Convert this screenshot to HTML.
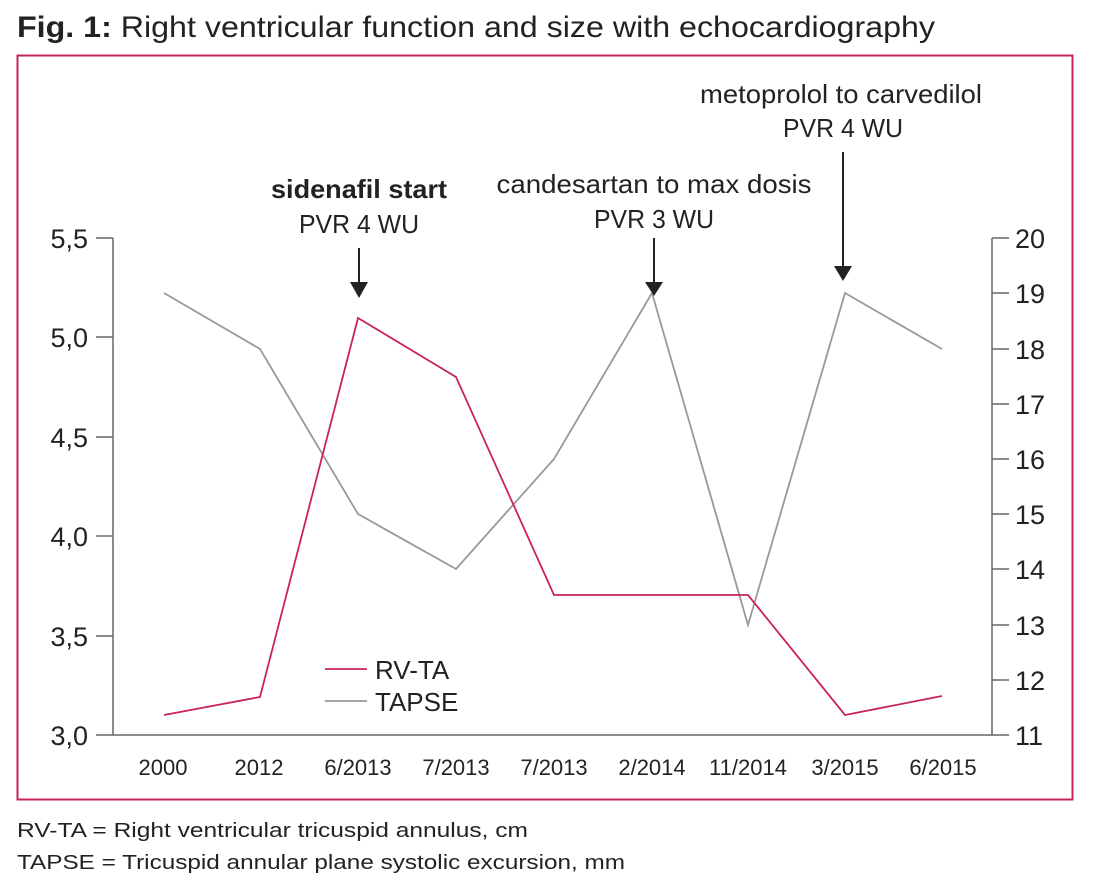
<!DOCTYPE html>
<html><head><meta charset="utf-8"><style>
html,body{margin:0;padding:0;background:#fff;}
svg{display:block;}
text{font-family:"Liberation Sans",sans-serif;fill:#222;}
</style></head><body>
<svg width="1100" height="885" viewBox="0 0 1100 885" xmlns="http://www.w3.org/2000/svg">
<text x="17" y="37" font-size="30" textLength="918" lengthAdjust="spacingAndGlyphs"><tspan font-weight="bold">Fig. 1:</tspan> Right ventricular function and size with echocardiography</text>
<rect x="17.5" y="55.5" width="1055" height="744" fill="none" stroke="#c8245a" stroke-width="2"/>
<g stroke="#666" stroke-width="1.5" fill="none">
<line x1="113" y1="238" x2="113" y2="735"/>
<line x1="992" y1="238" x2="992" y2="735"/>
<line x1="96" y1="735" x2="1009" y2="735"/>
<line x1="96" y1="238" x2="113" y2="238"/><line x1="96" y1="337" x2="113" y2="337"/><line x1="96" y1="437" x2="113" y2="437"/><line x1="96" y1="536" x2="113" y2="536"/><line x1="96" y1="636" x2="113" y2="636"/>
<line x1="992" y1="238" x2="1009" y2="238"/><line x1="992" y1="293" x2="1009" y2="293"/><line x1="992" y1="349" x2="1009" y2="349"/><line x1="992" y1="404" x2="1009" y2="404"/><line x1="992" y1="459" x2="1009" y2="459"/><line x1="992" y1="514" x2="1009" y2="514"/><line x1="992" y1="569" x2="1009" y2="569"/><line x1="992" y1="625" x2="1009" y2="625"/><line x1="992" y1="680" x2="1009" y2="680"/>
</g>
<g font-size="27" text-anchor="end">
<text x="88" y="248">5,5</text><text x="88" y="347">5,0</text><text x="88" y="447">4,5</text><text x="88" y="546">4,0</text><text x="88" y="646">3,5</text><text x="88" y="745">3,0</text>
</g>
<g font-size="27">
<text x="1015" y="248">20</text><text x="1015" y="303">19</text><text x="1015" y="359">18</text><text x="1015" y="414">17</text><text x="1015" y="469">16</text><text x="1015" y="524">15</text><text x="1015" y="579">14</text><text x="1015" y="635">13</text><text x="1015" y="690">12</text><text x="1015" y="745">11</text>
</g>
<g font-size="22" text-anchor="middle">
<text x="163" y="775">2000</text><text x="259" y="775">2012</text><text x="358" y="775">6/2013</text><text x="456" y="775">7/2013</text><text x="554" y="775">7/2013</text><text x="652" y="775">2/2014</text><text x="748" y="775">11/2014</text><text x="845" y="775">3/2015</text><text x="943" y="775">6/2015</text>
</g>
<polyline fill="none" stroke="#999" stroke-width="1.8" points="164,293 260,349 358,514 456,569 554,459 652,293 748,625 845,293 942,349"/>
<polyline fill="none" stroke="#c8245a" stroke-width="1.8" points="164,715 260,697 358,318 456,377 554,595 652,595 748,595 845,715 942,696"/>
<line x1="325" y1="669" x2="367" y2="669" stroke="#c8245a" stroke-width="1.8"/>
<line x1="325" y1="701" x2="367" y2="701" stroke="#999" stroke-width="1.8"/>
<text x="375" y="679" font-size="26">RV-TA</text>
<text x="375" y="711" font-size="26">TAPSE</text>
<g font-size="26" text-anchor="middle">
<text x="359" y="198" font-weight="bold" textLength="176" lengthAdjust="spacingAndGlyphs">sidenafil start</text>
<text x="359" y="233" textLength="120" lengthAdjust="spacingAndGlyphs">PVR 4 WU</text>
<text x="654" y="193" textLength="315" lengthAdjust="spacingAndGlyphs">candesartan to max dosis</text>
<text x="654" y="228" textLength="120" lengthAdjust="spacingAndGlyphs">PVR 3 WU</text>
<text x="841" y="103" textLength="282" lengthAdjust="spacingAndGlyphs">metoprolol to carvedilol</text>
<text x="843" y="137" textLength="120" lengthAdjust="spacingAndGlyphs">PVR 4 WU</text>
</g>
<g stroke="#222" stroke-width="2">
<line x1="359" y1="248" x2="359" y2="284"/>
<line x1="654" y1="238" x2="654" y2="284"/>
<line x1="843" y1="152" x2="843" y2="268"/>
</g>
<g fill="#222">
<polygon points="350,282 368,282 359,298"/>
<polygon points="645,282 663,282 654,296"/>
<polygon points="834,266 852,266 843,281"/>
</g>
<text x="17" y="837" font-size="20" textLength="511" lengthAdjust="spacingAndGlyphs">RV-TA = Right ventricular tricuspid annulus, cm</text>
<text x="17" y="869" font-size="20" textLength="608" lengthAdjust="spacingAndGlyphs">TAPSE = Tricuspid annular plane systolic excursion, mm</text>
</svg>
</body></html>
